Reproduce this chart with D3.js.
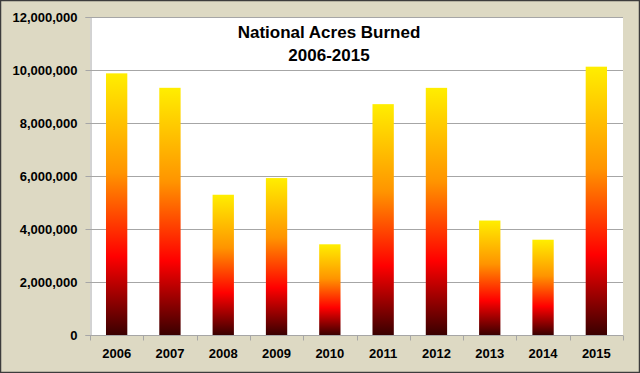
<!DOCTYPE html>
<html>
<head>
<meta charset="utf-8">
<script src="https://cdn.jsdelivr.net/npm/d3@7"></script>
<style>
  body { margin: 0; background: #fff; }
  svg { display: block; font-family: "Liberation Sans", Arial, sans-serif; }
</style>
</head>
<body>
<div id="chart"></div>
<script>
// acres burned per year
var years = ['2006', '2007', '2008', '2009', '2010', '2011', '2012', '2013', '2014', '2015'];
var acres = [9873745, 9328045, 5292468, 5921786, 3422724, 8711367, 9326238, 4319546, 3595613, 10125149];
var yTicks = [0, 2000000, 4000000, 6000000, 8000000, 10000000, 12000000];
var titleLines = ['National Acres Burned', '2006-2015'];

var W = 640, H = 373,
    plot = {left: 90, right: 623, top: 17, bottom: 335};

var svg = d3.select('#chart').append('svg').attr('width', W).attr('height', H);

// flame gradient, one per bar (bounding box units)
var grad = svg.append('defs').append('linearGradient')
    .attr('id', 'flame').attr('x1', 0).attr('y1', 0).attr('x2', 0).attr('y2', 1);
[[0, '#ffee00'], [0.38, '#ff9400'], [0.7, '#ff0000'], [1, '#3a0000']].forEach(function(s) {
    grad.append('stop').attr('offset', s[0]).attr('stop-color', s[1]);
});

// frame
svg.append('rect').attr('x', 0.5).attr('y', 0.5).attr('width', W - 1).attr('height', H - 1)
    .attr('fill', '#ddd9c3').attr('stroke', '#3c3c3c').attr('stroke-width', 1.5);
svg.append('rect').attr('x', plot.left).attr('y', plot.top)
    .attr('width', plot.right - plot.left).attr('height', plot.bottom - plot.top)
    .attr('fill', '#fff');

var x = d3.scaleBand().domain(years).range([plot.left, plot.right]).paddingInner(0.6).paddingOuter(0.3);
var xb = d3.scaleBand().domain(years).range([plot.left, plot.right]);
var y = d3.scaleLinear().domain([0, 12000000]).range([plot.bottom, plot.top]);

// gridlines
svg.append('g').selectAll('line').data(yTicks.slice(1)).enter().append('line')
    .attr('x1', plot.left).attr('x2', plot.right)
    .attr('y1', function(d) { return Math.round(y(d)) + 0.5; })
    .attr('y2', function(d) { return Math.round(y(d)) + 0.5; })
    .attr('stroke', '#a6a6a6').attr('stroke-width', 1);

// bars
svg.append('g').selectAll('rect').data(acres).enter().append('rect')
    .attr('x', function(d, i) { return x(years[i]); })
    .attr('width', x.bandwidth())
    .attr('y', function(d) { return y(d); })
    .attr('height', function(d) { return plot.bottom - y(d); })
    .attr('fill', 'url(#flame)');

// y axis
var yAxis = svg.append('g').attr('transform', 'translate(' + (plot.left + 0.5) + ',0)')
    .call(d3.axisLeft(y).tickValues(yTicks).tickSize(5).tickPadding(8).tickFormat(d3.format(',')));
yAxis.select('.domain').attr('stroke', '#a6a6a6');
yAxis.selectAll('.tick line').attr('stroke', '#a6a6a6');
yAxis.selectAll('text').attr('font-size', 13).attr('font-weight', 'bold').attr('fill', '#000')
    .attr('font-family', '"Liberation Sans", Arial, sans-serif');

// x axis, ticks between categories
var xAxis = svg.append('g').attr('transform', 'translate(0,' + (plot.bottom + 0.5) + ')');
xAxis.append('line').attr('x1', plot.left).attr('x2', plot.right).attr('stroke', '#a6a6a6');
xAxis.selectAll('line.tk').data(years.concat(['end'])).enter().append('line').attr('class', 'tk')
    .attr('x1', function(d, i) { return Math.round(plot.left + i * xb.step()) + 0.5; })
    .attr('x2', function(d, i) { return Math.round(plot.left + i * xb.step()) + 0.5; })
    .attr('y1', 0).attr('y2', 5).attr('stroke', '#a6a6a6');
xAxis.selectAll('text').data(years).enter().append('text')
    .attr('x', function(d) { return xb(d) + xb.bandwidth() / 2; })
    .attr('y', 22)
    .attr('text-anchor', 'middle')
    .attr('font-size', 13).attr('font-weight', 'bold')
    .text(function(d) { return d; });

// title
svg.append('g').selectAll('text').data(titleLines).enter().append('text')
    .attr('x', 329).attr('y', function(d, i) { return 38 + i * 23; })
    .attr('text-anchor', 'middle')
    .attr('font-size', 17).attr('font-weight', 'bold')
    .text(function(d) { return d; });
</script>
</body>
</html>
